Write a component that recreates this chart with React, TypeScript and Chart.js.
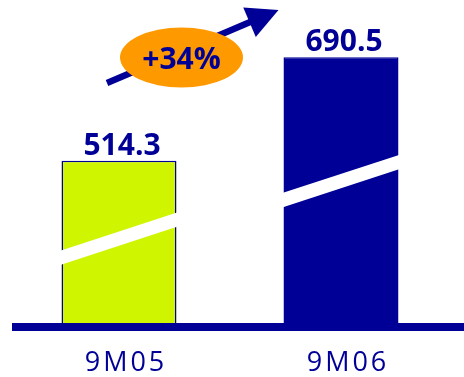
import React, { useEffect, useRef } from "react";
import { Chart, registerables } from "chart.js";

Chart.register(...registerables);

const categories = ["9M05", "9M06"];
const values = [514.3, 690.5];
const valueLabels = ["514.3", "690.5"];
const growthLabel = "+34%";
const barColors = ["#cff500", "#000096"];
const navy = "#000096";
const orange = "#ff9900";
const breakFractions = [0.52, 0.534];

const decorPlugin = {
  id: "decor",
  afterDatasetsDraw(chart: any) {
    const ctx = chart.ctx as CanvasRenderingContext2D;
    const area = chart.chartArea;
    const meta = chart.getDatasetMeta(0);
    ctx.save();
    // axis-break stripes + value labels
    meta.data.forEach((bar: any, i: number) => {
      const { x, y, base, width } = bar.getProps(["x", "y", "base", "width"], true);
      const bottom = Math.min(base, area.bottom);
      const h = bottom - y;
      const cy = bottom - breakFractions[i] * h;
      const s = 0.327;
      const half = 7.2;
      const x0 = x - width / 2 - 2;
      const x1 = x + width / 2 + 2;
      ctx.fillStyle = "#ffffff";
      ctx.beginPath();
      ctx.moveTo(x0, cy - half + s * (x - x0));
      ctx.lineTo(x1, cy - half - s * (x1 - x));
      ctx.lineTo(x1, cy + half - s * (x1 - x));
      ctx.lineTo(x0, cy + half + s * (x - x0));
      ctx.closePath();
      ctx.fill();

      ctx.fillStyle = navy;
      ctx.font = "bold 30px 'Open Sans'";
      ctx.textAlign = "center";
      ctx.textBaseline = "alphabetic";
      ctx.fillText(valueLabels[i], x + 3, y - 6);

      ctx.font = "27px 'Open Sans'";
      (ctx as any).letterSpacing = "3px";
      ctx.fillText(categories[i], x + 7, area.bottom + 48);
      (ctx as any).letterSpacing = "0px";
    });

    // baseline
    ctx.fillStyle = navy;
    ctx.fillRect(area.left + 4, area.bottom, chart.width - area.left - 4, 8);

    // growth arrow
    const sx = 107, sy = 83, tx = 278.5, ty = 10;
    const ang = Math.atan2(ty - sy, tx - sx);
    const headLen = 31.5;
    const headHalf = 16;
    const bx = tx - headLen * Math.cos(ang);
    const by = ty - headLen * Math.sin(ang);
    ctx.strokeStyle = navy;
    ctx.lineWidth = 6.5;
    ctx.lineCap = "butt";
    ctx.beginPath();
    ctx.moveTo(sx, sy);
    ctx.lineTo(bx + 2 * Math.cos(ang), by + 2 * Math.sin(ang));
    ctx.stroke();
    ctx.beginPath();
    ctx.moveTo(tx, ty);
    ctx.lineTo(bx - headHalf * Math.sin(ang), by + headHalf * Math.cos(ang));
    ctx.lineTo(bx + headHalf * Math.sin(ang), by - headHalf * Math.cos(ang));
    ctx.closePath();
    ctx.fill();

    // orange ellipse with growth label
    ctx.fillStyle = orange;
    ctx.beginPath();
    ctx.ellipse(181.5, 57.5, 61.5, 30, 0, 0, Math.PI * 2);
    ctx.fill();
    ctx.fillStyle = navy;
    ctx.font = "bold 30px 'Open Sans'";
    ctx.textAlign = "center";
    ctx.textBaseline = "alphabetic";
    ctx.fillText(growthLabel, 181.5, 69);
    ctx.restore();
  },
};

export default function App() {
  const ref = useRef<HTMLCanvasElement>(null);
  useEffect(() => {
    if (!ref.current) return;
    const chart = new Chart(ref.current, {
      type: "bar",
      data: {
        labels: categories,
        datasets: [
          {
            data: values,
            backgroundColor: barColors,
            borderColor: navy,
            borderWidth: 1.5,
            barPercentage: 0.518,
            categoryPercentage: 1,
          },
        ],
      },
      options: {
        animation: false,
        responsive: true,
        maintainAspectRatio: false,
        layout: { padding: { left: 8, right: 12, top: 0, bottom: 54 } },
        scales: {
          x: { display: false },
          y: { display: false, min: 238, max: 788 },
        },
        plugins: { legend: { display: false }, tooltip: { enabled: false } },
      },
      plugins: [decorPlugin],
    });
    return () => chart.destroy();
  }, []);
  return (
    <div style={{ position: "fixed", left: 0, top: 0, width: 464, height: 377, background: "#fff" }}>
      <canvas ref={ref} />
    </div>
  );
}
